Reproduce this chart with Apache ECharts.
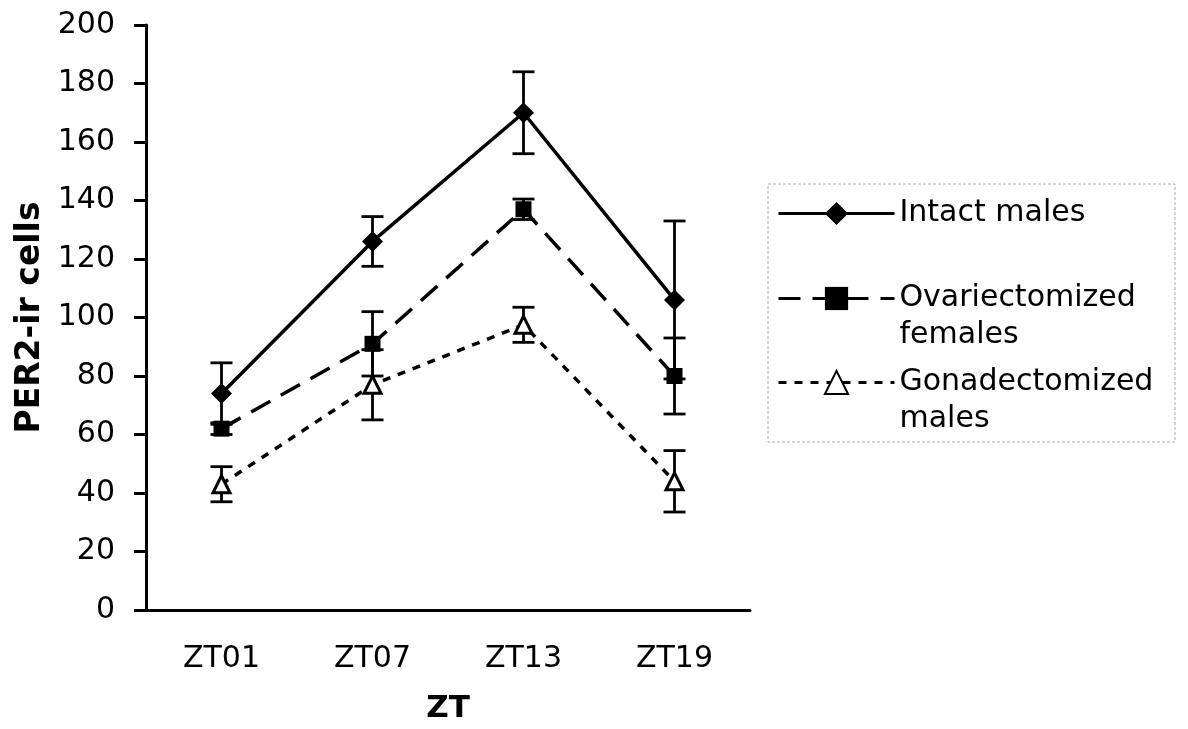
<!DOCTYPE html>
<html>
<head>
<meta charset="utf-8">
<script src="https://cdn.jsdelivr.net/npm/echarts@6/dist/echarts.min.js"></script>
<style>
  html, body { margin: 0; padding: 0; background: #fff; }
  #chart { width: 1188px; height: 729px; }
</style>
</head>
<body>
<div id="chart"></div>
<script>
// PER2-ir cells across the day, three groups, mean +/- error

const categories = ['ZT01', 'ZT07', 'ZT13', 'ZT19'];
const yTicks = [0, 200, 20]; // min, max, interval

const intactMean = [74, 126, 170, 106];
const intactErr = [10.5, 8.5, 14, 27];

const ovxMean = [62, 91, 137, 80];
const ovxErr = [2, 11, 3.5, 13];

const gdxMean = [43, 77, 97.5, 44];
const gdxErr = [6, 12, 6, 10.5];

const seriesNames = ['Intact males', 'Ovariectomized females', 'Gonadectomized males'];

const chart = echarts.init(document.getElementById('chart'));

const FONT = 'DejaVu Sans';

// error bar data: [category index, low, high]
const errData = (mean, err) => mean.map((m, i) => [i, m - err[i], m + err[i]]);

const renderErr = (params, api) => {
  const x = api.value(0);
  const lo = api.coord([x, api.value(1)]);
  const hi = api.coord([x, api.value(2)]);
  const w = 11;
  const style = { stroke: '#000', lineWidth: 2.8 };
  return {
    type: 'group',
    children: [
      { type: 'line', shape: { x1: lo[0], y1: lo[1], x2: hi[0], y2: hi[1] }, style },
      { type: 'line', shape: { x1: hi[0] - w, y1: hi[1], x2: hi[0] + w, y2: hi[1] }, style },
      { type: 'line', shape: { x1: lo[0] - w, y1: lo[1], x2: lo[0] + w, y2: lo[1] }, style }
    ]
  };
};

const legendBase = {
  left: 777,
  padding: 0,
  itemWidth: 116,
  itemHeight: 29,
  itemGap: 0,
  selectedMode: false,
  lineStyle: { width: 3 },
  textStyle: { fontFamily: FONT, fontSize: 30, color: '#000', lineHeight: 37 }
};

const option = {
  backgroundColor: '#fff',
  animation: false,
  grid: { left: 146, right: 438, top: 25, bottom: 118 },
  graphic: [
    {
      type: 'rect',
      shape: { x: 768, y: 184, width: 407, height: 258 },
      style: { fill: 'none', stroke: '#aaa', lineWidth: 1, lineDash: [3, 2] }
    }
  ],
  legend: [
    Object.assign({}, legendBase, {
      top: 195,
      data: [seriesNames[0]]
    }),
    Object.assign({}, legendBase, {
      top: 243,
      data: [seriesNames[1]],
      formatter: () => '\nOvariectomized\nfemales'
    }),
    Object.assign({}, legendBase, {
      top: 327,
      data: [seriesNames[2]],
      formatter: () => '\nGonadectomized\nmales'
    })
  ],
  xAxis: {
    type: 'category',
    data: categories,
    boundaryGap: true,
    name: 'ZT',
    nameLocation: 'middle',
    nameGap: 83,
    nameTextStyle: { fontFamily: FONT, fontSize: 31, fontWeight: 'bold', color: '#000' },
    axisLine: { lineStyle: { color: '#000', width: 3 } },
    axisTick: { length: 11, lineStyle: { color: '#000', width: 3 } },
    axisLabel: { fontFamily: FONT, fontSize: 30, color: '#000', margin: 34 },
    splitLine: { show: false }
  },
  yAxis: {
    type: 'value',
    min: yTicks[0],
    max: yTicks[1],
    interval: yTicks[2],
    name: 'PER2-ir cells',
    nameLocation: 'middle',
    nameGap: 86,
    nameTextStyle: { fontFamily: FONT, fontSize: 33, fontWeight: 'bold', color: '#000' },
    axisLine: { show: true, lineStyle: { color: '#000', width: 3 } },
    axisTick: { show: true, length: 12, lineStyle: { color: '#000', width: 3 } },
    axisLabel: { fontFamily: FONT, fontSize: 30, color: '#000', margin: 31 },
    splitLine: { show: false }
  },
  series: [
    {
      type: 'custom',
      renderItem: renderErr,
      data: errData(intactMean, intactErr),
      z: 1,
      silent: true
    },
    {
      type: 'custom',
      renderItem: renderErr,
      data: errData(ovxMean, ovxErr),
      z: 1,
      silent: true
    },
    {
      type: 'custom',
      renderItem: renderErr,
      data: errData(gdxMean, gdxErr),
      z: 1,
      silent: true
    },
    {
      name: seriesNames[0],
      type: 'line',
      data: intactMean,
      z: 3,
      symbol: 'diamond',
      symbolSize: 21,
      lineStyle: { color: '#000', width: 3.5 },
      itemStyle: { color: '#000' }
    },
    {
      name: seriesNames[1],
      type: 'line',
      data: ovxMean,
      z: 3,
      symbol: 'rect',
      symbolSize: 16,
      lineStyle: { color: '#000', width: 3.5, type: [22, 12] },
      itemStyle: { color: '#000' }
    },
    {
      name: seriesNames[2],
      type: 'line',
      data: gdxMean,
      z: 3,
      symbol: 'triangle',
      symbolSize: 17,
      lineStyle: { color: '#000', width: 3.5, type: [8, 8] },
      itemStyle: { color: '#fff', borderColor: '#000', borderWidth: 3 }
    }
  ]
};

chart.setOption(option);
</script>
</body>
</html>
